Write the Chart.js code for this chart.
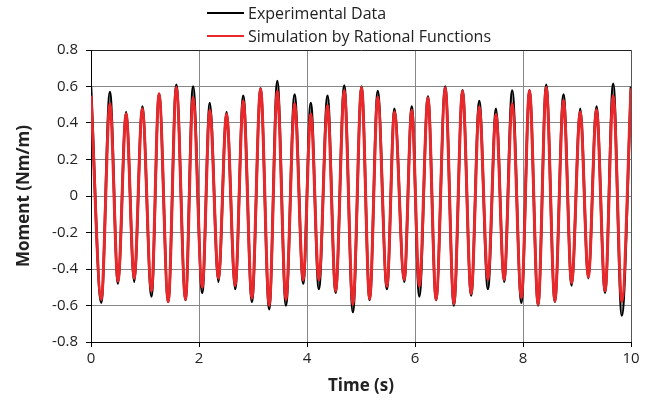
<!DOCTYPE html>
<html>
<head>
<meta charset="utf-8">
<script src="https://cdn.jsdelivr.net/npm/chart.js@4/dist/chart.umd.min.js"></script>
<style>
    body { margin: 0; background: #fff; }
    #wrap { position: relative; width: 653px; height: 405px; }
    #legend { position: absolute; left: 207px; top: 1px; font: 16px 'Open Sans', sans-serif; color: #222; }
    .item { display: flex; align-items: center; height: 23px; white-space: nowrap; }
    .swatch { width: 37px; height: 2px; margin-right: 4px; }
</style>
</head>
<body>
<div id="wrap">
    <canvas id="chart" width="653" height="405"></canvas>
    <div id="legend"></div>
</div>
<script>
// times of the turning points (s)
const times = [0, 0.19, 0.35, 0.50, 0.65, 0.80, 0.95, 1.12, 1.26, 1.43, 1.58, 1.75, 1.89,
    2.06, 2.20, 2.36, 2.51, 2.67, 2.82, 2.98, 3.14, 3.30, 3.45, 3.61, 3.77, 3.93,
    4.07, 4.22, 4.38, 4.53, 4.69, 4.85, 5.01, 5.16, 5.31, 5.48, 5.62, 5.80, 5.94,
    6.08, 6.24, 6.39, 6.56, 6.72, 6.88, 7.04, 7.19, 7.35, 7.50, 7.65, 7.80, 7.97,
    8.12, 8.28, 8.43, 8.59, 8.75, 8.90, 9.06, 9.21, 9.36, 9.52, 9.67, 9.83, 10];

// Moment (Nm/m)
const experimental = [0.60, -0.585, 0.57, -0.48, 0.46, -0.47, 0.49, -0.55, 0.56, -0.58, 0.61, -0.57, 0.60,
    -0.53, 0.51, -0.47, 0.46, -0.51, 0.55, -0.58, 0.59, -0.62, 0.63, -0.60, 0.556, -0.48,
    0.51, -0.51, 0.55, -0.53, 0.605, -0.636, 0.60, -0.57, 0.575, -0.51, 0.478, -0.47, 0.49,
    -0.55, 0.545, -0.57, 0.60, -0.60, 0.58, -0.545, 0.52, -0.51, 0.478, -0.47, 0.578, -0.585,
    0.58, -0.60, 0.61, -0.58, 0.556, -0.49, 0.478, -0.45, 0.49, -0.53, 0.615, -0.655, 0.60];

const simulation = [0.55, -0.567, 0.505, -0.467, 0.45, -0.45, 0.478, -0.52, 0.56, -0.58, 0.596, -0.567, 0.54,
    -0.50, 0.47, -0.45, 0.45, -0.49, 0.52, -0.56, 0.587, -0.60, 0.575, -0.567, 0.505, -0.46,
    0.45, -0.46, 0.496, -0.52, 0.578, -0.595, 0.596, -0.564, 0.542, -0.495, 0.46, -0.458, 0.47,
    -0.495, 0.538, -0.567, 0.593, -0.59, 0.575, -0.535, 0.487, -0.458, 0.447, -0.458, 0.505, -0.558,
    0.578, -0.595, 0.596, -0.576, 0.524, -0.476, 0.46, -0.444, 0.473, -0.52, 0.55, -0.58, 0.59];

const xTickLabels = ['0', '2', '4', '6', '8', '10'];
const yTickLabels = ['-0.8', '-0.6', '-0.4', '-0.2', '0', '0.2', '0.4', '0.6', '0.8'];

const toPoints = values => values.map((v, i) => ({ x: times[i], y: v }));

const tickFont = { family: 'Open Sans', size: 15 };
const titleFont = { family: 'Open Sans', size: 17, weight: 'bold' };

const ctx = document.getElementById('chart').getContext('2d');
const chart = new Chart(ctx, {
    type: 'line',
    data: {
        datasets: [{
            label: 'Simulation by Rational Functions',
            data: toPoints(simulation),
            borderColor: '#e8282b',
            borderWidth: 3,
            order: 0
        }, {
            label: 'Experimental Data',
            data: toPoints(experimental),
            borderColor: '#000000',
            borderWidth: 2.5,
            order: 1
        }]
    },
    options: {
        responsive: false,
        animation: false,
        layout: { padding: { left: 0, right: 22, top: 50, bottom: 0 } },
        elements: {
            point: { radius: 0 },
            line: { cubicInterpolationMode: 'monotone', fill: false }
        },
        plugins: { legend: { display: false }, tooltip: { enabled: false } },
        scales: {
            x: {
                type: 'linear',
                min: 0,
                max: 10,
                ticks: {
                    stepSize: 2,
                    color: '#222',
                    font: tickFont,
                    padding: 3,
                    maxRotation: 0,
                    callback: (v, i) => xTickLabels[i]
                },
                grid: {
                    color: c => c.tick && c.tick.value === 10 ? '#555' : '#888',
                    tickColor: '#000',
                    tickLength: 5
                },
                border: { color: '#000' },
                title: { display: true, text: 'Time (s)', color: '#222', font: titleFont, padding: { top: 0, bottom: 9 } },
                afterFit: s => { s.height = 63; }
            },
            y: {
                min: -0.8,
                max: 0.8,
                ticks: {
                    stepSize: 0.2,
                    color: '#222',
                    font: tickFont,
                    padding: 8,
                    callback: (v, i) => yTickLabels[i]
                },
                grid: {
                    color: c => c.tick && Math.abs(c.tick.value - 0.8) < 1e-6 ? '#222' : '#888',
                    tickColor: '#000',
                    tickLength: 5
                },
                border: { color: '#000' },
                title: { display: true, text: 'Moment (Nm/m)', color: '#222', font: titleFont, padding: { top: 14, bottom: 0 } },
                afterFit: s => { s.width = 91; }
            }
        }
    }
});

// Legend above the plot, experimental first
const legendOrder = [1, 0];
document.getElementById('legend').innerHTML = legendOrder.map(i => {
    const ds = chart.data.datasets[i];
    return `<div class="item"><span class="swatch" style="background:${ds.borderColor}"></span>${ds.label}</div>`;
}).join('');
</script>
</body>
</html>
